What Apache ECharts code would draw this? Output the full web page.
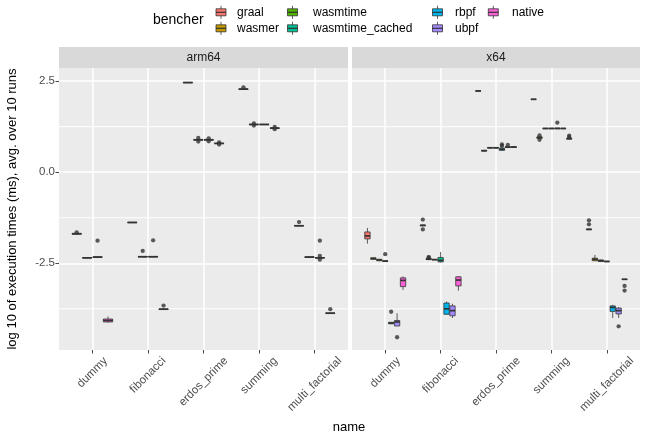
<!DOCTYPE html>
<html>
<head>
<meta charset="utf-8">
<script src="https://cdn.jsdelivr.net/npm/echarts@6/dist/echarts.min.js"></script>
<style>
html, body { margin: 0; padding: 0; background: #fff; }
#root { width: 647px; height: 440px; }
</style>
</head>
<body>
<div id="root"></div>
<script>
const categories = ['dummy', 'fibonacci', 'erdos_prime', 'summing', 'multi_factorial'];
const benchers = ['graal', 'wasmer', 'wasmtime', 'wasmtime_cached', 'rbpf', 'ubpf', 'native'];
const colors = ['#F8766D', '#C49A00', '#53B400', '#00C094', '#00B6EB', '#A58AFF', '#FB61D7'];
const yTicks = [-2.5, 0, 2.5];
const yMinorTicks = [-3.75, -1.25, 1.25];
const arm64Benchers = ['graal', 'wasmtime', 'wasmtime_cached', 'native'];
const x64Benchers = benchers;

// one row per category: [min, q1, median, q3, max]; outliers: [categoryIndex, value]
const arm64Graal = [[-1.71, -1.70, -1.69, -1.68, -1.67], [-1.39, -1.385, -1.38, -1.375, -1.37], [2.45, 2.455, 2.46, 2.465, 2.47], [2.27, 2.275, 2.28, 2.285, 2.29], [-1.48, -1.475, -1.47, -1.465, -1.46]];
const arm64GraalOut = [[0, -1.65], [3, 2.33], [4, -1.37]];
const arm64Wasmtime = [[-2.36, -2.355, -2.35, -2.345, -2.34], [-2.33, -2.325, -2.32, -2.315, -2.31], [0.87, 0.88, 0.89, 0.895, 0.90], [1.30, 1.305, 1.31, 1.315, 1.32], [-2.34, -2.335, -2.33, -2.325, -2.32]];
const arm64WasmtimeOut = [[1, -2.16], [2, 0.94], [2, 0.84], [3, 1.34], [3, 1.28]];
const arm64WasmtimeCached = [[-2.34, -2.335, -2.33, -2.325, -2.32], [-2.33, -2.325, -2.32, -2.315, -2.31], [0.87, 0.88, 0.89, 0.895, 0.90], [1.30, 1.305, 1.31, 1.315, 1.32], [-2.36, -2.355, -2.35, -2.345, -2.34]];
const arm64WasmtimeCachedOut = [[0, -1.88], [1, -1.87], [2, 0.93], [2, 0.85], [4, -1.88], [4, -2.30], [4, -2.40]];
const arm64Native = [[-4.13, -4.11, -4.07, -4.03, -3.96], [-3.77, -3.765, -3.76, -3.755, -3.75], [0.78, 0.785, 0.79, 0.795, 0.80], [1.20, 1.205, 1.21, 1.215, 1.22], [-3.88, -3.875, -3.87, -3.865, -3.86]];
const arm64NativeOut = [[1, -3.66], [2, 0.82], [2, 0.76], [3, 1.24], [3, 1.18], [4, -3.76]];

const x64Graal = [[-1.96, -1.83, -1.75, -1.64, -1.53], [-1.48, -1.47, -1.46, -1.45, -1.44], [2.22, 2.225, 2.23, 2.235, 2.24], [1.99, 1.995, 2.0, 2.005, 2.01], [-1.59, -1.575, -1.57, -1.56, -1.55]];
const x64GraalOut = [[1, -1.30], [1, -1.57], [4, -1.32], [4, -1.43]];
const x64Wasmer = [[-2.40, -2.39, -2.37, -2.35, -2.34], [-2.41, -2.40, -2.385, -2.37, -2.36], [0.57, 0.58, 0.59, 0.60, 0.61], [0.92, 0.93, 0.95, 0.97, 0.98], [-2.44, -2.43, -2.39, -2.36, -2.27]];
const x64WasmerOut = [[1, -2.33], [1, -2.34], [3, 1.01], [3, 0.89]];
const x64Wasmtime = [[-2.44, -2.43, -2.41, -2.39, -2.38], [-2.41, -2.405, -2.40, -2.395, -2.39], [0.66, 0.665, 0.67, 0.675, 0.68], [1.19, 1.195, 1.20, 1.205, 1.21], [-2.46, -2.45, -2.43, -2.41, -2.40]];
const x64WasmtimeOut = [];
const x64WasmtimeCached = [[-2.45, -2.445, -2.44, -2.435, -2.43], [-2.48, -2.46, -2.42, -2.34, -2.19], [0.66, 0.665, 0.67, 0.675, 0.68], [1.19, 1.195, 1.20, 1.205, 1.21], [-2.46, -2.455, -2.45, -2.445, -2.44]];
const x64WasmtimeCachedOut = [[0, -2.25]];
const x64Rbpf = [[-4.17, -4.16, -4.14, -4.12, -4.11], [-3.91, -3.90, -3.75, -3.59, -3.55], [0.59, 0.60, 0.63, 0.66, 0.67], [1.19, 1.195, 1.20, 1.21, 1.22], [-4.0, -3.82, -3.71, -3.67, -3.64]];
const x64RbpfOut = [[0, -3.83], [2, 0.72], [2, 0.76], [3, 1.36]];
const x64Ubpf = [[-4.22, -4.22, -4.11, -4.07, -3.87], [-4.0, -3.94, -3.80, -3.67, -3.61], [0.67, 0.68, 0.69, 0.70, 0.71], [1.19, 1.195, 1.20, 1.205, 1.21], [-4.0, -3.89, -3.80, -3.73, -3.70]];
const x64UbpfOut = [[0, -4.53], [2, 0.75], [4, -4.23]];
const x64Native = [[-3.23, -3.14, -2.97, -2.90, -2.86], [-3.25, -3.12, -2.96, -2.87, -2.85], [0.67, 0.68, 0.69, 0.70, 0.71], [0.90, 0.91, 0.92, 0.93, 0.94], [-2.95, -2.945, -2.94, -2.935, -2.93]];
const x64NativeOut = [[3, 1.00], [3, 0.96], [4, -3.12], [4, -3.25]];

const panels = [
  { name: 'arm64', left: 59, width: 289, benchers: arm64Benchers,
    boxes: [arm64Graal, arm64Wasmtime, arm64WasmtimeCached, arm64Native],
    outs: [arm64GraalOut, arm64WasmtimeOut, arm64WasmtimeCachedOut, arm64NativeOut] },
  { name: 'x64', left: 352, width: 288, benchers: x64Benchers,
    boxes: [x64Graal, x64Wasmer, x64Wasmtime, x64WasmtimeCached, x64Rbpf, x64Ubpf, x64Native],
    outs: [x64GraalOut, x64WasmerOut, x64WasmtimeOut, x64WasmtimeCachedOut, x64RbpfOut, x64UbpfOut, x64NativeOut] }
];

const FONT = '"Liberation Sans", Arial, sans-serif';
const TOP = 68, HEIGHT = 282;
const X_MIN = 0.4, X_MAX = 5.6;
const tickFont = 11.5;

// rotated x labels: push each one down so their tops line up
const mctx = document.createElement('canvas').getContext('2d');
mctx.font = tickFont + 'px "Liberation Sans"';
const rich = {};
categories.forEach((c, i) => {
  const p = (mctx.measureText(c).width + tickFont) / 2;
  rich['c' + i] = { padding: [p, p, 0, 0], fontSize: tickFont, color: '#4D4D4D', fontFamily: FONT };
});

function boxRenderer(hw, color) {
  return function (params, api) {
    const x = api.value(0);
    const lo = api.coord([x, api.value(1)]);
    const hi = api.coord([x, api.value(5)]);
    const a = api.coord([x - hw, api.value(4)]);
    const b = api.coord([x + hw, api.value(2)]);
    const m = api.coord([x, api.value(3)]);
    const ls = { stroke: '#333333', lineWidth: 0.8 };
    return {
      type: 'group',
      children: [
        { type: 'line', shape: { x1: hi[0], y1: hi[1], x2: hi[0], y2: a[1] }, style: ls },
        { type: 'line', shape: { x1: lo[0], y1: b[1], x2: lo[0], y2: lo[1] }, style: ls },
        { type: 'rect', shape: { x: a[0], y: a[1], width: b[0] - a[0], height: Math.max(b[1] - a[1], 0.2) },
          style: { fill: color, stroke: '#333333', lineWidth: 0.8 } },
        { type: 'line', shape: { x1: a[0], y1: m[1], x2: b[0], y2: m[1] }, style: { stroke: '#333333', lineWidth: 1.7 } }
      ]
    };
  };
}

function minorGridRenderer(params, api) {
  const p1 = api.coord([X_MIN, api.value(0)]);
  const p2 = api.coord([X_MAX, api.value(0)]);
  return { type: 'line', shape: { x1: p1[0], y1: p1[1], x2: p2[0], y2: p2[1] },
    style: { stroke: '#FFFFFF', lineWidth: 1 } };
}

const grid = [], xAxis = [], yAxis = [], series = [], graphic = [];

panels.forEach((p, gi) => {
  grid.push({ left: p.left, top: TOP, width: p.width, height: HEIGHT, show: true, backgroundColor: '#EBEBEB', borderWidth: 0 });
  xAxis.push({
    type: 'value', gridIndex: gi, min: X_MIN, max: X_MAX, position: 'bottom',
    axisLine: { show: false, onZero: false },
    axisTick: { show: true, customValues: [1, 2, 3, 4, 5], length: 3.5, lineStyle: { color: '#333333', width: 0.9 } },
    axisLabel: {
      customValues: [1, 2, 3, 4, 5], rotate: 45, align: 'center', verticalAlign: 'middle', margin: 5,
      formatter: v => '{c' + (v - 1) + '|' + categories[v - 1] + '}', rich: rich
    },
    splitLine: { show: true, lineStyle: { color: '#FFFFFF', width: 1.5 } }
  });
  yAxis.push({
    type: 'value', gridIndex: gi, min: -4.88, max: 2.86,
    axisLine: { show: false, onZero: false },
    axisTick: { show: gi === 0, customValues: yTicks, length: 3.5, lineStyle: { color: '#333333', width: 0.9 } },
    axisLabel: { show: gi === 0, customValues: yTicks, formatter: v => v.toFixed(1), color: '#4D4D4D', fontSize: tickFont, fontFamily: FONT, margin: 4 },
    splitLine: { show: true, lineStyle: { color: '#FFFFFF', width: 1.5 } },
    name: gi === 0 ? 'log 10 of execution times (ms), avg. over 10 runs' : '',
    nameLocation: 'middle', nameGap: 40,
    nameTextStyle: { fontSize: 13, color: '#000000', fontFamily: FONT }
  });

  // minor horizontal grid lines, kept under the boxes
  series.push({
    type: 'custom', xAxisIndex: gi, yAxisIndex: gi, z: 1, silent: true, clip: true,
    renderItem: minorGridRenderer,
    data: yMinorTicks.map(v => [v])
  });

  const n = p.benchers.length;
  const slot = 0.75 / n;
  const hw = slot * 0.9 / 2;
  p.benchers.forEach((bn, j) => {
    const off = -0.375 + (j + 0.5) * slot;
    const color = colors[benchers.indexOf(bn)];
    series.push({
      type: 'custom', name: bn, xAxisIndex: gi, yAxisIndex: gi, z: 3, clip: true,
      renderItem: boxRenderer(hw, color),
      data: p.boxes[j].map((s, i) => [i + 1 + off].concat(s))
    });
    series.push({
      type: 'scatter', name: bn, xAxisIndex: gi, yAxisIndex: gi, z: 4,
      symbol: 'circle', symbolSize: 4.3, itemStyle: { color: '#333333' }, silent: true,
      data: p.outs[j].map(o => [o[0] + 1 + off, o[1]])
    });
  });

  graphic.push({ type: 'rect', shape: { x: p.left, y: 47, width: p.width, height: TOP - 47 }, style: { fill: '#D9D9D9' } });
  graphic.push({ type: 'text', x: p.left + p.width / 2, y: (47 + TOP) / 2,
    style: { text: p.name, fill: '#1A1A1A', font: '12px ' + FONT, textAlign: 'center', textVerticalAlign: 'middle' } });
});

graphic.push({ type: 'text', x: 349, y: 427,
  style: { text: 'name', fill: '#000000', font: '13px ' + FONT, textAlign: 'center', textVerticalAlign: 'middle' } });

// legend
graphic.push({ type: 'text', x: 153, y: 20,
  style: { text: 'bencher', fill: '#000000', font: '14px ' + FONT, textAlign: 'left', textVerticalAlign: 'middle' } });
const keyX = [221, 292.5, 437.5, 493.3];
const textX = [237, 313, 455, 512];
const rowY = [12.3, 28.3];
benchers.forEach((bn, k) => {
  const col = Math.floor(k / 2), row = k % 2;
  const cx = keyX[col], cy = rowY[row];
  graphic.push({ type: 'line', shape: { x1: cx, y1: cy - 6.5, x2: cx, y2: cy + 6.5 }, style: { stroke: '#333333', lineWidth: 0.8 } });
  graphic.push({ type: 'rect', shape: { x: cx - 5, y: cy - 3.5, width: 10, height: 7 }, style: { fill: colors[k], stroke: '#333333', lineWidth: 0.8 } });
  graphic.push({ type: 'line', shape: { x1: cx - 5, y1: cy, x2: cx + 5, y2: cy }, style: { stroke: '#333333', lineWidth: 1.2 } });
  graphic.push({ type: 'text', x: textX[col], y: cy,
    style: { text: bn, fill: '#000000', font: '12px ' + FONT, textAlign: 'left', textVerticalAlign: 'middle' } });
});

const chart = echarts.init(document.getElementById('root'));
chart.setOption({
  backgroundColor: '#FFFFFF',
  animation: false,
  textStyle: { fontFamily: FONT },
  grid: grid,
  xAxis: xAxis,
  yAxis: yAxis,
  series: series,
  graphic: graphic
});
</script>
</body>
</html>
